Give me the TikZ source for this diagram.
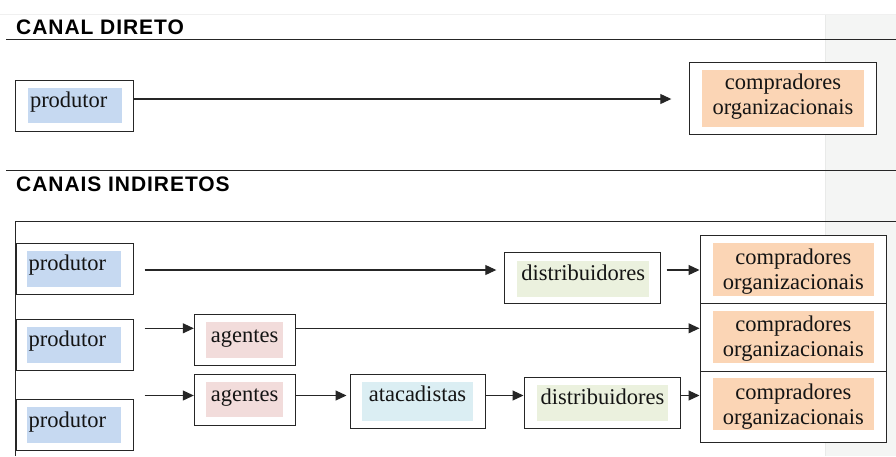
\documentclass[tikz,border=0pt]{standalone}
\usepackage{fontspec}
\setmainfont{Liberation Serif}
\newfontfamily\headfont[LetterSpace=4.5]{Liberation Sans}
\usetikzlibrary{arrows.meta}

\definecolor{panelgray}{HTML}{F4F5F4}
\definecolor{paneledge}{HTML}{E9EAE9}
\definecolor{topline}{HTML}{F0F0F0}
\definecolor{tintblue}{HTML}{C6D9F1}
\definecolor{tintorange}{HTML}{FBD5B5}
\definecolor{tintgreen}{HTML}{EBF1DE}
\definecolor{tintpink}{HTML}{F2DCDB}
\definecolor{tintcyan}{HTML}{DBEEF3}
\definecolor{ink}{HTML}{262626}

% frame node: name, x, y, width, height
\newcommand\frm[5]{\node[boxframe, minimum width=#4pt, minimum height=#5pt] (#1) at (#2,#3) {};}
% tinted text background: name, x, y, width, height, colour
\newcommand\tnt[6]{\node[tintbox, fill=#6, minimum width=#4pt, minimum height=#5pt] (#1) at (#2,#3) {};}

\begin{document}
\begin{tikzpicture}[x=1pt, y=-1pt,
  boxframe/.style={draw=ink, line width=1pt, inner sep=0pt, fill=white},
  tintbox/.style={inner sep=0pt, draw=none},
  txt/.style={inner sep=0pt, font=\fontsize{22.5}{25}\selectfont, text=black!92},
  headtxt/.style={inner sep=0pt, anchor=base west, font=\headfont\bfseries\fontsize{21}{24}\selectfont},
  hrule/.style={line width=1pt, draw=ink},
  link/.style={line width=1.1pt, draw=ink, -{Triangle[length=11pt,width=10pt]}}]

\useasboundingbox (0,0) rectangle (896,456);

% page background and side panel
\fill[white] (0,0) rectangle (896,456);
\fill[panelgray] (826,14) rectangle (896,456);
\draw[paneledge, line width=0.8pt] (825.5,14) -- (825.5,456);
\draw[topline, line width=0.8pt] (0,14) -- (896,14);

% section headings
\node[headtxt] (h1) at (16,34.5) {CANAL DIRETO};
\draw[hrule] (6,39.5) -- (896,39.5);
\node[headtxt] (h2) at (16,191) {CANAIS INDIRETOS};
\draw[hrule] (6,170.5) -- (896,170.5);

% frame around the indirect channels
\draw[hrule] (15.5,456) |- (896,221.7);

% row coordinates for the connectors
\coordinate (r0) at (0,99);
\coordinate (r1) at (0,270);
\coordinate (r2) at (0,328.3);
\coordinate (r3) at (0,395.5);

% ---------- direct channel ----------
\frm{p0}{74}{105.85}{118}{51.7}
\tnt{p0f}{74.85}{105.5}{93.7}{35.6}{tintblue}
\node[txt, anchor=base west] (p0t) at ([xshift=2pt,yshift=-19.5pt]p0f.north west) {produtor};

\frm{c0}{783}{98.3}{187.4}{72}
\tnt{c0f}{783}{98.35}{162.6}{56.7}{tintorange}
\node[txt, anchor=base] (c0a) at ([yshift=-20pt]c0f.north) {compradores};
\node[txt, anchor=base] (c0b) at ([yshift=-45pt]c0f.north) {organizacionais};

\draw[link, shorten >=17.5pt] (p0.east |- r0) -- (c0.west |- r0);

% ---------- indirect channels ----------
% buyers column
\frm{c1}{793.35}{269.35}{186.7}{67.3}
\frm{c2}{793.35}{337}{186.7}{68}
\frm{c3}{793.35}{406.65}{186.7}{71.3}
\tnt{c1f}{793.35}{269.65}{161.3}{52.7}{tintorange}
\tnt{c2f}{793.35}{337}{161.3}{52.6}{tintorange}
\tnt{c3f}{793.35}{404.15}{161.3}{51.7}{tintorange}
\node[txt, anchor=base] (c1a) at ([yshift=-21pt]c1f.north) {compradores};
\node[txt, anchor=base] (c1b) at ([yshift=-46pt]c1f.north) {organizacionais};
\node[txt, anchor=base] (c2a) at ([yshift=-21pt]c2f.north) {compradores};
\node[txt, anchor=base] (c2b) at ([yshift=-46pt]c2f.north) {organizacionais};
\node[txt, anchor=base] (c3a) at ([yshift=-21pt]c3f.north) {compradores};
\node[txt, anchor=base] (c3b) at ([yshift=-46pt]c3f.north) {organizacionais};

% row 1: produtor -> distribuidores -> compradores
\frm{p1}{74.5}{268.8}{117}{51}
\tnt{p1f}{73.7}{268.7}{94}{36}{tintblue}
\node[txt, anchor=base west] (p1t) at ([xshift=2pt,yshift=-20pt]p1f.north west) {produtor};

\frm{d1}{582.5}{278}{156.4}{50.6}
\tnt{d1f}{583.15}{278.7}{131.7}{36}{tintgreen}
\node[txt, anchor=base] (d1t) at ([yshift=-19.5pt]d1f.north) {distribuidores};

% row 2: produtor -> agentes -> compradores
\frm{p2}{74.5}{344.85}{117}{51.7}
\tnt{p2f}{73.7}{345}{94}{36.6}{tintblue}
\node[txt, anchor=base west] (p2t) at ([xshift=2pt,yshift=-20pt]p2f.north west) {produtor};

\frm{a2}{245}{339.85}{101.4}{51.7}
\tnt{a2f}{244.65}{340}{77.3}{36.6}{tintpink}
\node[txt, anchor=base] (a2t) at ([yshift=-20.5pt]a2f.north) {agentes};

% row 3: produtor -> agentes -> atacadistas -> distribuidores -> compradores
\frm{p3}{74.5}{424.85}{117}{51.7}
\tnt{p3f}{73.7}{425}{94}{35.4}{tintblue}
\node[txt, anchor=base west] (p3t) at ([xshift=2pt,yshift=-20pt]p3f.north west) {produtor};

\frm{a3}{245}{399.85}{101.4}{51.7}
\tnt{a3f}{244.65}{399.5}{77.3}{35.6}{tintpink}
\node[txt, anchor=base] (a3t) at ([yshift=-20pt]a3f.north) {agentes};

\frm{at}{417.85}{401.3}{135.7}{54}
\tnt{atf}{417.5}{401.2}{111.6}{39}{tintcyan}
\node[txt, anchor=base] (att) at ([yshift=-19.5pt]atf.north) {atacadistas};

\frm{d3}{602.35}{403}{156.7}{50.6}
\tnt{d3f}{602.5}{402.85}{131.6}{35.7}{tintgreen}
\node[txt, anchor=base] (d3t) at ([yshift=-20pt]d3f.north) {distribuidores};

% connectors
\draw[link, shorten <=11pt, shorten >=7.5pt] (p1.east |- r1) -- (d1.west |- r1);
\draw[link, shorten <=5.3pt] (d1.east |- r1) -- (c1.west |- r1);

\draw[link, shorten <=11pt] (p2.east |- r2) -- (a2.west |- r2);
\draw[link] (a2.east |- r2) -- (c2.west |- r2);

\draw[link, shorten <=11pt] (p3.east |- r3) -- (a3.west |- r3);
\draw[link, shorten >=3pt] (a3.east |- r3) -- (at.west |- r3);
\draw[link] (at.east |- r3) -- (d3.west |- r3);
\draw[link] (d3.east |- r3) -- (c3.west |- r3);
\end{tikzpicture}
\end{document}
